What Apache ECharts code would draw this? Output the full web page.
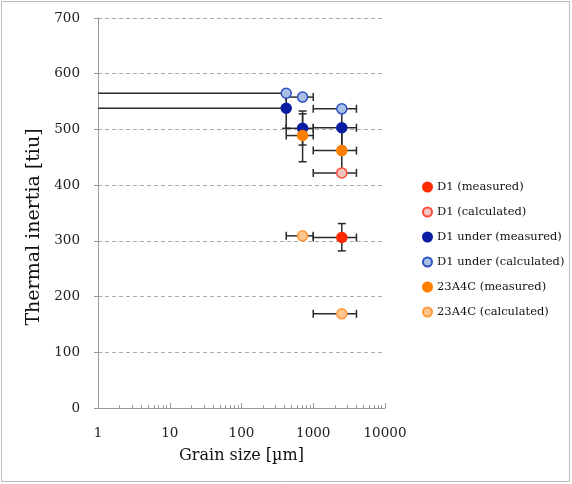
<!DOCTYPE html>
<html>
<head>
<meta charset="utf-8">
<script src="https://cdn.jsdelivr.net/npm/echarts@6/dist/echarts.min.js"></script>
<style>html,body{margin:0;padding:0;background:#fff;}#c{width:572px;height:484px;}</style>
</head>
<body>
<div id="c"></div>
<script>
// ---- data ----
const seriesNames = ['D1 (measured)', 'D1 (calculated)', 'D1 under (measured)', 'D1 under (calculated)', '23A4C (measured)', '23A4C (calculated)'];
// grain size [µm]
const d1MeasX = [2500];
const d1MeasY = [306];
const d1MeasXRange = [[1000, 4000]];
const d1MeasYRange = [[282, 331]];

const d1CalcX = [2500];
const d1CalcY = [422];
const d1CalcXRange = [[1000, 4000]];
const d1CalcYRange = [null];

const d1uMeasX = [420, 710, 2500];
const d1uMeasY = [538, 502, 503];
const d1uMeasXRange = [[0, 420], [420, 1000], [1000, 4000]];
const d1uMeasYRange = [[502, 568], [472, 533], [469, 537]];

const d1uCalcX = [420, 710, 2500];
const d1uCalcY = [565, 558, 537];
const d1uCalcXRange = [[0, 420], [420, 1000], [1000, 4000]];
const d1uCalcYRange = [null, null, null];

const a4cMeasX = [710, 2500];
const a4cMeasY = [489, 462];
const a4cMeasXRange = [[420, 1000], [1000, 4000]];
const a4cMeasYRange = [[442, 528], [422, 502]];

const a4cCalcX = [710, 2500];
const a4cCalcY = [309, 169];
const a4cCalcXRange = [[420, 1000], [1000, 4000]];
const a4cCalcYRange = [null, null];

const xTickLabels = ['1', '10', '100', '1000', '10000'];
const yTicks = [0, 100, 200, 300, 400, 500, 600, 700];

const groups = [
  [d1MeasX, d1MeasY, d1MeasXRange, d1MeasYRange],
  [d1CalcX, d1CalcY, d1CalcXRange, d1CalcYRange],
  [d1uMeasX, d1uMeasY, d1uMeasXRange, d1uMeasYRange],
  [d1uCalcX, d1uCalcY, d1uCalcXRange, d1uCalcYRange],
  [a4cMeasX, a4cMeasY, a4cMeasXRange, a4cMeasYRange],
  [a4cCalcX, a4cCalcY, a4cCalcXRange, a4cCalcYRange]
];

const styles = [
  { color: '#ff2a00', borderColor: '#ff2a00' },
  { color: '#f3c5c0', borderColor: '#ff4a3a' },
  { color: '#0a1ea2', borderColor: '#0a1ea2' },
  { color: '#a9c0e7', borderColor: '#2d50c2' },
  { color: '#ff7f00', borderColor: '#ff7f00' },
  { color: '#ffc58f', borderColor: '#ff9a3a' }
];

const FONT = 'DejaVu Serif';
const chart = echarts.init(document.getElementById('c'), null, { renderer: 'canvas' });

function errRender(params, api) {
  const x = api.value(0), y = api.value(1);
  const xlo = api.value(2), xhi = api.value(3), ylo = api.value(4), yhi = api.value(5);
  const cap = 4;
  const st = { stroke: '#2a2a2a', lineWidth: 1.5 };
  const ch = [];
  if (isFinite(xlo) && isFinite(xhi)) {
    const lo = api.coord([Math.max(xlo, 1), y]);
    const hi = api.coord([xhi, y]);
    ch.push({ type: 'line', shape: { x1: lo[0], y1: lo[1], x2: hi[0], y2: hi[1] }, style: st });
    if (xlo >= 1) ch.push({ type: 'line', shape: { x1: lo[0], y1: lo[1] - cap, x2: lo[0], y2: lo[1] + cap }, style: st });
    ch.push({ type: 'line', shape: { x1: hi[0], y1: hi[1] - cap, x2: hi[0], y2: hi[1] + cap }, style: st });
  }
  if (isFinite(ylo) && isFinite(yhi)) {
    const lo = api.coord([x, ylo]);
    const hi = api.coord([x, yhi]);
    ch.push({ type: 'line', shape: { x1: lo[0], y1: lo[1], x2: hi[0], y2: hi[1] }, style: st });
    ch.push({ type: 'line', shape: { x1: lo[0] - cap, y1: lo[1], x2: lo[0] + cap, y2: lo[1] }, style: st });
    ch.push({ type: 'line', shape: { x1: hi[0] - cap, y1: hi[1], x2: hi[0] + cap, y2: hi[1] }, style: st });
  }
  return { type: 'group', children: ch };
}

const series = [];
groups.forEach((g, i) => {
  const [xs, ys, xr, yr] = g;
  series.push({
    name: 'err' + i,
    type: 'custom',
    renderItem: errRender,
    encode: { x: 0, y: 1 },
    z: 1,
    silent: true,
    data: xs.map((x, k) => [x, ys[k], xr[k] ? xr[k][0] : NaN, xr[k] ? xr[k][1] : NaN, yr[k] ? yr[k][0] : NaN, yr[k] ? yr[k][1] : NaN])
  });
});
groups.forEach((g, i) => {
  const [xs, ys] = g;
  series.push({
    name: seriesNames[i],
    type: 'scatter',
    symbol: 'circle',
    symbolSize: 10,
    z: 5 + i,
    itemStyle: { color: styles[i].color, borderColor: styles[i].borderColor, borderWidth: 1.5, opacity: 1 },
    data: xs.map((x, k) => [x, ys[k]])
  });
});

chart.setOption({
  animation: false,
  backgroundColor: '#fff',
  grid: { left: 98, top: 18, width: 287, height: 390, containLabel: false },
  xAxis: {
    type: 'log', logBase: 10, min: 1, max: 10000,
    name: 'Grain size [µm]', nameLocation: 'middle', nameGap: 40,
    nameTextStyle: { fontFamily: FONT, fontSize: 16, color: '#111' },
    axisLine: { lineStyle: { color: '#999', width: 1 } },
    axisTick: { inside: true, length: 5, lineStyle: { color: '#999' } },
    minorTick: { show: true, splitNumber: 9, length: 3, lineStyle: { color: '#999' } },
    splitLine: { show: false },
    axisLabel: { fontFamily: FONT, fontSize: 13.5, color: '#222', margin: 18,
      formatter: v => { const i = Math.round(Math.log10(v)); return xTickLabels[i] !== undefined ? xTickLabels[i] : ''; } }
  },
  yAxis: {
    type: 'value', min: yTicks[0], max: yTicks[yTicks.length - 1], interval: 100,
    name: 'Thermal inertia [tiu]', nameLocation: 'middle', nameGap: 54,
    nameTextStyle: { fontFamily: FONT, fontSize: 19, color: '#111', padding: [0, 28, 0, 0] },
    axisLine: { show: true, lineStyle: { color: '#999', width: 1 } },
    axisTick: { show: true, length: 4, lineStyle: { color: '#999' } },
    splitLine: { show: true, lineStyle: { color: '#aaa', type: [4, 3], width: 1 } },
    axisLabel: { fontFamily: FONT, fontSize: 13.5, color: '#222', margin: 18 }
  },
  legend: {
    orient: 'vertical', left: 422, top: 181, padding: 0,
    data: seriesNames, icon: 'circle', itemWidth: 9, itemHeight: 9, itemGap: 13,
    textStyle: { fontFamily: FONT, fontSize: 11.5, color: '#111' },
    selectedMode: false
  },
  graphic: [{ type: 'rect', shape: { x: 1.5, y: 1.5, width: 568, height: 480 }, style: { fill: 'none', stroke: '#bbb', lineWidth: 1 }, silent: true, z: 0 }],
  series: series
});
</script>
</body>
</html>
